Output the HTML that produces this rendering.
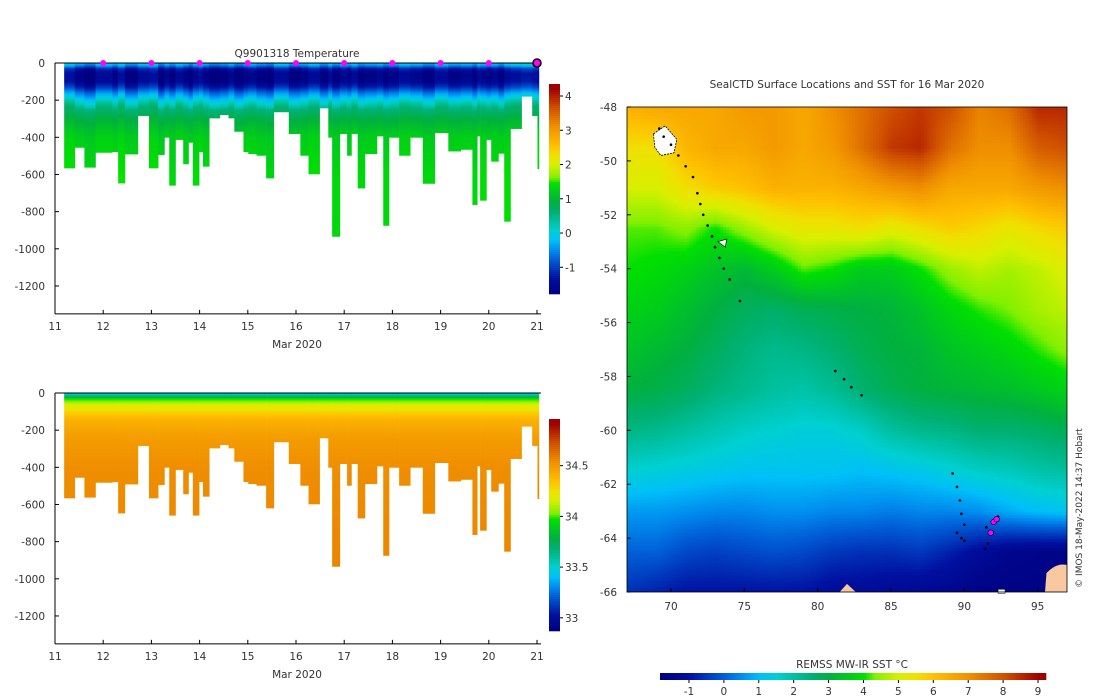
<!DOCTYPE html>
<html><head><meta charset="utf-8">
<style>
html,body{margin:0;padding:0;background:#fff;}
#wrap{position:relative;width:1100px;height:700px;overflow:hidden;font-family:"DejaVu Sans","Liberation Sans",sans-serif;}
#mapcv{position:absolute;left:627px;top:107px;}
svg{position:absolute;left:0;top:0;}
</style></head>
<body>
<div id="wrap">
<canvas id="mapcv" width="440" height="485"></canvas>
<svg id="fig" width="1100" height="700" xmlns="http://www.w3.org/2000/svg" font-family="DejaVu Sans, Liberation Sans, sans-serif" font-size="10.5"></svg>
</div>
<script>
// ---- profile data ----
const profStart=[11.19,11.41,11.61,11.84,12.19,12.31,12.45,12.72,12.95,13.14,13.27,13.37,13.50,13.66,13.77,13.86,13.99,14.07,14.20,14.42,14.60,14.72,14.91,15.01,15.18,15.38,15.54,15.85,16.09,16.26,16.49,16.67,16.75,16.91,17.06,17.15,17.28,17.43,17.68,17.81,17.93,18.14,18.37,18.63,18.88,19.16,19.42,19.66,19.76,19.82,19.95,20.05,20.20,20.32,20.45,20.68,20.90,21.01];
const profEnd=21.04;
const profDepth=[567,456,563,483,479,648,492,285,567,495,402,660,414,545,429,660,479,558,298,280,298,370,479,490,499,621,265,382,499,599,244,402,935,382,499,382,675,490,395,876,402,499,402,650,377,476,467,764,395,741,414,531,488,854,355,181,285,571];
const profTempShift=[0.3,0,-0.2,0.2,0,0.3,-0.1,0.2,0.3,-0.2,0.1,-0.1,0.2,0,-0.2,0.1,0.2,0,-0.2,-0.1,0.1,-0.2,0,0.1,-0.1,-0.2,0.2,-0.1,0,0.2,-0.1,0.2,-0.1,0.1,0,0.2,-0.1,0,0.1,-0.1,0,0.2,0.1,-0.1,0.2,0,0.1,-0.1,0.2,0.1,0,0.1,-0.1,0.2,0.3,0.4,0.3,0.2];
const tDepths=[0,15,30,60,100,130,160,200,250,300,400,600,1000];
const tValues=[-0.2,-0.5,-1.3,-1.7,-1.6,-1.2,-0.6,0.0,0.6,0.9,1.25,1.4,1.4];
const sDepths=[0,15,30,60,100,150,250,400,1000];
const sValues=[33.4,33.65,33.95,34.15,34.3,34.42,34.5,34.55,34.58];
const dayTicks=[11,12,13,14,15,16,17,18,19,20,21];
const depthTicks=[0,-200,-400,-600,-800,-1000,-1200];
const markerDays=[12,13,14,15,16,17,18,19,20];
const tempCbTicks=[-1,0,1,2,3,4];
const salCbTicks=[33,33.5,34,34.5];
// ---- map data ----
const gridLons=[67,69,71,73,75,77,79,81,83,85,87,89,91,93,95,97];
const gridLats=[-48,-49.5,-51,-52.5,-54,-55.5,-57,-58.5,-60,-61.5,-63,-64.5,-66];
const sst=[
[6.3,6.5,6.5,6.5,6.8,6.8,6.5,7,7.5,8,8.3,8,7.2,7.5,8.5,8.5],
[5.5,5.5,6.2,6.5,6.5,6.8,6.5,6.8,7.5,8.3,8.5,7.5,7,7,7.8,8],
[5,5,5.5,5.8,6,6.3,6.3,6.3,6.5,6.8,7,6.5,6.5,6.5,6.8,7],
[4.2,4.2,4.4,4,4.5,5,5.3,5.3,5.5,5.2,5.5,5.8,5.6,5.3,5.6,5.8],
[4,3.9,3.7,3.4,3.2,3.6,4.2,4,3.6,3.6,4,4.5,4.8,4.6,4.8,5.1],
[3.7,3.6,3.3,3,2.7,2.6,2.8,2.9,3,3.1,3.4,3.8,4.1,4.3,4.6,4.8],
[3.4,3.2,3,2.7,2.4,2.2,2.3,2.5,2.8,3,3.1,3.4,3.6,3.8,4.1,4.4],
[3,2.9,2.7,2.4,2.2,2,1.9,2.1,2.5,2.8,3,3.1,3.2,3.3,3.5,3.7],
[2.3,2.2,2,1.8,1.6,1.5,1.4,1.4,1.6,2,2.2,2.3,2.5,2.5,2.6,2.8],
[1.5,1.4,1.3,1.2,1.1,1.1,1.1,1.1,1,1.1,1.2,1.4,1.6,1.7,1.9,2],
[0.6,0.6,0.5,0.4,0.4,0.5,0.5,0.4,0.4,0.3,0.4,0.4,0.5,0.8,1,1.1],
[0,0,-0.3,-0.4,-0.3,-0.2,-0.3,-0.5,-0.6,-0.6,-0.5,-0.8,-1.2,-1.5,-1.6,-1.6],
[-0.6,-0.8,-1,-1,-1,-1,-1,-1.2,-1.2,-1.3,-1.4,-1.5,-1.7,-1.7,-1.7,-1.7]];
const trackLon=[69.2,69.5,70,70.5,71,71.5,71.8,72,72.2,72.5,72.8,73,73.3,73.6,74,74.7,81.2,81.8,82.3,83,89.2,89.5,89.7,89.8,90,89.5,89.8,90,91.5,92,92.3,91.8,91.6,91.4];
const trackLat=[-48.8,-49.1,-49.4,-49.8,-50.2,-50.6,-51.2,-51.6,-52,-52.4,-52.8,-53.2,-53.6,-54,-54.4,-55.2,-57.8,-58.1,-58.4,-58.7,-61.6,-62.1,-62.6,-63.1,-63.5,-63.8,-64,-64.1,-63.6,-63.4,-63.2,-63.8,-64.2,-64.4];
const magLon=[92,91.8,92.2];
const magLat=[-63.4,-63.8,-63.3];
const lonTicks=[70,75,80,85,90,95];
const latTicks=[-48,-50,-52,-54,-56,-58,-60,-62,-64,-66];
const sstCbTicks=[-1,0,1,2,3,4,5,6,7,8,9];

const cmStops=[[0,[0,0,128]],[0.075,[0,16,160]],[0.166,[0,96,216]],[0.211,[0,144,240]],[0.257,[0,192,248]],[0.302,[0,208,208]],[0.347,[0,192,160]],[0.393,[0,176,112]],[0.438,[0,176,64]],[0.483,[0,200,32]],[0.529,[0,224,0]],[0.556,[128,240,0]],[0.619,[216,240,0]],[0.664,[240,224,0]],[0.71,[255,192,0]],[0.8,[240,144,0]],[0.891,[208,80,0]],[0.982,[160,0,0]],[1,[160,0,0]]];
function cmap(t){t=Math.max(0,Math.min(1,t));for(let i=1;i<cmStops.length;i++){if(t<=cmStops[i][0]){const a=cmStops[i-1],b=cmStops[i];const f=(t-a[0])/(b[0]-a[0]);return [0,1,2].map(k=>Math.round(a[1][k]+f*(b[1][k]-a[1][k])));}}return cmStops[cmStops.length-1][1];}
function rgb(c){return 'rgb('+c.join(',')+')';}

const NS='http://www.w3.org/2000/svg';
const svg=document.getElementById('fig');
const TXT='#333';
function el(tag,attrs,parent){const e=document.createElementNS(NS,tag);for(const k in attrs)e.setAttribute(k,attrs[k]);(parent||svg).appendChild(e);return e;}
const defs=el('defs',{});

function interp(xs,ys,x){if(x<=xs[0])return ys[0];for(let i=1;i<xs.length;i++){if(x<=xs[i]){const f=(x-xs[i-1])/(xs[i]-xs[i-1]);return ys[i-1]+f*(ys[i]-ys[i-1]);}}return ys[ys.length-1];}

function profilePanel(opt){
  const x0=55,x1=537,y0=opt.y0,ppm=0.1858,yb=y0+1350*ppm;
  const xs=d=>x0+(d-11)*(x1-x0)/10;
  const ys=z=>y0-z*ppm;
  const g=el('g',{});
  
  
  for(let i=0;i<profStart.length;i++){
    const a=xs(profStart[i]),b=xs(i+1<profStart.length?profStart[i+1]:profEnd);
    const gid=opt.name+'-g'+i;
    const lg=el('linearGradient',{id:gid,gradientUnits:'userSpaceOnUse',x1:0,y1:y0,x2:0,y2:y0+1000*ppm},defs);
    for(let z=0;z<=1000;z+=10){
      let v=interp(opt.depths,opt.vals,z);
      if(opt.shift) v+=profTempShift[i]*(z<250?1:0.3);
      el('stop',{offset:z/1000,'stop-color':rgb(cmap((v-opt.vmin)/(opt.vmax-opt.vmin)))},lg);
    }
    const r=el('rect',{x:a,y:y0,width:Math.max(b-a,0.8)+0.3,height:profDepth[i]*ppm,fill:'url(#'+gid+')'},g);
    
    
  }
  const ax=el('g',{stroke:'#000','stroke-width':1,fill:'none'});
  
  
  el('line',{x1:x0,y1:y0,x2:x0,y2:yb},ax);
  el('line',{x1:x0,y1:yb,x2:541,y2:yb},ax);
  el('line',{x1:x0,y1:y0,x2:541,y2:y0},ax);
  depthTicks.forEach(t=>{const y=ys(t);el('line',{x1:x0,y1:y,x2:x0+4,y2:y},ax);
    const tx=el('text',{x:x0-10,y:y+4,'text-anchor':'end',fill:TXT});tx.textContent=t;
    });
  dayTicks.forEach(d=>{const x=xs(d);el('line',{x1:x,y1:yb,x2:x,y2:yb-4},ax);
    const tx=el('text',{x:x,y:yb+16,'text-anchor':'middle',fill:TXT});tx.textContent=d;
    });
  const xl=el('text',{x:297,y:yb+34,'text-anchor':'middle',fill:TXT});xl.textContent='Mar 2020';
  
  const cbx=549,cbw=11,cby0=opt.cb0,cby1=opt.cb1;
  const cbv=y=>opt.vmax-(y-cby0)/(cby1-cby0)*(opt.vmax-opt.vmin);
  const cg=el('g',{});
  
  
  for(let y=cby0;y<cby1;y+=2){el('rect',{x:cbx,y:y,width:cbw,height:2.3,fill:rgb(cmap((cbv(y)-opt.vmin)/(opt.vmax-opt.vmin)))},cg);}
  opt.cbTicks.forEach(t=>{const y=cby0+(opt.vmax-t)/(opt.vmax-opt.vmin)*(cby1-cby0);
    el('line',{x1:cbx+cbw,y1:y,x2:cbx+cbw+3,y2:y,stroke:'#000'},cg);
    const tx=el('text',{x:565,y:y+4,fill:TXT},cg);tx.textContent=t;
    });
  return {xs,ys};
}
const topPanel=profilePanel({name:'temperature-panel',y0:63,depths:tDepths,vals:tValues,vmin:-1.75,vmax:4.35,shift:true,cb0:84,cb1:293,cbTicks:tempCbTicks});
profilePanel({name:'salinity-panel',y0:393,depths:sDepths,vals:sValues,vmin:32.88,vmax:34.96,shift:false,cb0:419,cb1:630,cbTicks:salCbTicks});
const tt=el('text',{x:297,y:57,'text-anchor':'middle',fill:TXT});tt.textContent='Q9901318  Temperature';

markerDays.forEach(d=>{const c=el('circle',{cx:topPanel.xs(d),cy:63,r:3,fill:'#ff00ff'});
  });
const lm=el('circle',{cx:topPanel.xs(21),cy:63,r:4,fill:'#ff00ff',stroke:'#000','stroke-width':1.5});


// ---- map ----
const MX0=627,MX1=1067,MY0=107,MY1=592,LON0=67,LON1=97,LAT0=-48,LAT1=-66;
const mx=l=>MX0+(l-LON0)/(LON1-LON0)*(MX1-MX0);
const my=l=>MY0+(l-LAT0)/(LAT1-LAT0)*(MY1-MY0);
const SV0=-1.83,SV1=9.2;
(function(){
  const cv=document.getElementById('mapcv'),ctx=cv.getContext('2d');
  const W=cv.width,H=cv.height,step=3;
  for(let py=0;py<H;py+=step){for(let px=0;px<W;px+=step){
    const lon=LON0+(px+1)/W*(LON1-LON0),lat=LAT0+(py+1)/H*(LAT1-LAT0);
    let fi=(lon-gridLons[0])/2,fj=(lat-gridLats[0])/-1.5;
    fi=Math.max(0,Math.min(gridLons.length-1.001,fi));fj=Math.max(0,Math.min(gridLats.length-1.001,fj));
    const i=Math.floor(fi),j=Math.floor(fj),a=fi-i,b=fj-j;
    const v=sst[j][i]*(1-a)*(1-b)+sst[j][i+1]*a*(1-b)+sst[j+1][i]*(1-a)*b+sst[j+1][i+1]*a*b;
    ctx.fillStyle=rgb(cmap((v-SV0)/(SV1-SV0)));ctx.fillRect(px,py,step,step);
  }}
})();
const mg=el('g',{});


const land1=el('path',{d:`M${mx(81.5)},${my(-66)} L${mx(82)},${my(-65.7)} L${mx(82.6)},${my(-66)} Z`,fill:'#f8c8a0'},mg);

const land2=el('path',{d:`M${mx(95.5)},${my(-66)} L${mx(95.6)},${my(-65.3)} Q${mx(96.3)},${my(-64.9)} ${mx(97)},${my(-65)} L${mx(97)},${my(-66)} Z`,fill:'#f8c8a0'},mg);

const isl=el('path',{d:`M${mx(68.8)},${my(-49.0)} L${mx(69.6)},${my(-48.7)} L${mx(70.4)},${my(-49.2)} L${mx(70.2)},${my(-49.7)} L${mx(69.3)},${my(-49.8)} L${mx(68.9)},${my(-49.5)} Z`,fill:'#fff',stroke:'#000','stroke-width':0.8,'stroke-dasharray':'2,1'},mg);

const isl2=el('path',{d:`M${mx(73.2)},${my(-53)} L${mx(73.8)},${my(-52.9)} L${mx(73.7)},${my(-53.2)} Z`,fill:'#fff',stroke:'#000','stroke-width':0.6},mg);

const isl3=el('rect',{x:mx(92.3),y:my(-65.9),width:7,height:4,fill:'#fff',stroke:'#000','stroke-width':0.5},mg);

for(let i=0;i<trackLon.length;i++){const c=el('circle',{cx:mx(trackLon[i]),cy:my(trackLat[i]),r:1.3,fill:'#000'},mg);
  }
for(let i=0;i<magLon.length;i++){const c=el('circle',{cx:mx(magLon[i]),cy:my(magLat[i]),r:2.8,fill:'#ff00ff',stroke:'#000','stroke-width':0.6},mg);
  }
const mb=el('rect',{x:MX0,y:MY0,width:MX1-MX0,height:MY1-MY0,fill:'none',stroke:'#000','stroke-width':0.8});

lonTicks.forEach(l=>{const x=mx(l);el('line',{x1:x,y1:MY1,x2:x,y2:MY1-4,stroke:'#000'});
  const t=el('text',{x:x,y:MY1+18,'text-anchor':'middle',fill:TXT});t.textContent=l;
  });
latTicks.forEach(l=>{const y=my(l);el('line',{x1:MX0,y1:y,x2:MX0+4,y2:y,stroke:'#000'});
  const t=el('text',{x:MX0-10,y:y+4,'text-anchor':'end',fill:TXT});t.textContent=l;
  });
const mt=el('text',{x:847,y:88,'text-anchor':'middle',fill:TXT});mt.textContent='SealCTD Surface Locations and SST for 16 Mar 2020';

const cr=el('text',{x:0,y:0,'text-anchor':'middle',fill:TXT,'font-size':9,transform:'translate(1082,508) rotate(-90)'});cr.textContent='© IMOS 18-May-2022 14:37 Hobart';

const cb=el('g',{});


const CX0=660,CX1=1045,CY=673;
for(let x=CX0;x<CX1;x+=2){const v=SV0+(x-CX0)/(CX1-CX0)*(SV1-SV0);el('rect',{x:x,y:CY,width:2.3,height:7,fill:rgb(cmap((v-SV0)/(SV1-SV0)))},cb);}
sstCbTicks.forEach(v=>{const x=CX0+(v-SV0)/(SV1-SV0)*(CX1-CX0);el('line',{x1:x,y1:CY+7,x2:x,y2:CY+10,stroke:'#000'},cb);
  const t=el('text',{x:x,y:CY+22,'text-anchor':'middle',fill:TXT},cb);t.textContent=v;
  });
const cl=el('text',{x:852,y:668,'text-anchor':'middle',fill:TXT});cl.textContent='REMSS MW-IR SST °C';

</script>
</body></html>
